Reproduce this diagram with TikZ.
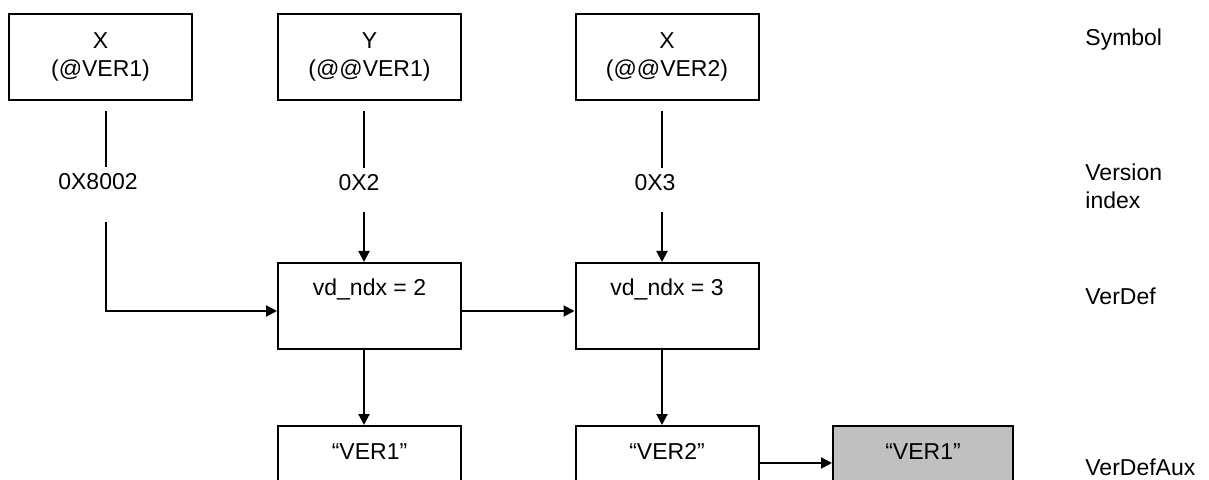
\documentclass[tikz,border=0pt]{standalone}
\usepackage{fontspec}
\setmainfont{Liberation Sans}
\usepackage{tikz}
\usetikzlibrary{arrows.meta}
\definecolor{auxgray}{RGB}{192,192,192}

\begin{document}
\begin{tikzpicture}[x=0.5pt,y=-0.5pt,font={\fontsize{11.5}{14}\selectfont},
        box/.style={draw,line width=1pt,minimum width=91.5pt,minimum height=43pt,align=center,inner sep=0pt},
        topbox/.style={box,text height=12.5pt,text depth=22.5pt,inner ysep=4pt},
        rowlabel/.style={inner sep=0pt,align=left},
        wire/.style={line width=1pt},
        arr/.style={wire,-{Triangle[length=5.5pt,width=5.5pt]}}]
        \useasboundingbox (0,0) rectangle (1209,480);
        \clip (0,0) rectangle (1209,480);

        \coordinate (c1) at (106,0);
        \coordinate (c2) at (364,0);
        \coordinate (c3) at (662,0);

        \node [box] (symx) at (100.5,57) {X\\(@VER1)};
        \node [box] (symy) at (369.5,57) {Y\\(@@VER1)};
        \node [box] (symz) at (667,57) {X\\(@@VER2)};

        \node (idx1) at (98,182) {0X8002};
        \node (idx2) at (359,183) {0X2};
        \node (idx3) at (655,183) {0X3};

        \node [topbox] (vd2) at (369.5,306) {vd\_ndx = 2};
        \node [topbox] (vd3) at (667,306) {vd\_ndx = 3};

        \node [topbox] (aux1) at (369.5,469) {“VER1”};
        \node [topbox] (aux2) at (667,469) {“VER2”};
        \node [topbox,fill=auxgray,minimum width=90pt] (aux3) at (923,469) {“VER1”};

        \node [rowlabel,anchor=base west] (lsym) at (1085,46) {Symbol};
        \node [rowlabel,anchor=west] (lidx) at (1085,186) {Version\\index};
        \node [rowlabel,anchor=base west] (lvd) at (1085,305) {VerDef};
        \node [rowlabel,anchor=base west] (laux) at (1085,475) {VerDefAux};

        \draw [wire,shorten <=5pt] (symx.south -| c1) -- (idx1.north -| c1);
        \draw [wire,shorten <=5pt] (symy.south -| c2) -- (idx2.north -| c2);
        \draw [wire,shorten <=5pt] (symz.south -| c3) -- (idx3.north -| c3);

        \draw [arr,shorten <=12.5pt] (idx1.south -| c1) |- ([yshift=-2.5pt]vd2.west);
        \draw [arr,shorten <=7pt] (idx2.south -| c2) -- (vd2.north -| c2);
        \draw [arr,shorten <=7pt] (idx3.south -| c3) -- (vd3.north -| c3);

        \draw [arr] ([yshift=-2.5pt]vd2.east) -- ([yshift=-2.5pt]vd3.west);
        \draw [arr] (vd2.south -| c2) -- (aux1.north -| c2);
        \draw [arr] (vd3.south -| c3) -- (aux2.north -| c3);
        \draw [arr] ([yshift=3pt]aux2.east) -- ([yshift=3pt]aux3.west);
    \end{tikzpicture}
\end{document}
